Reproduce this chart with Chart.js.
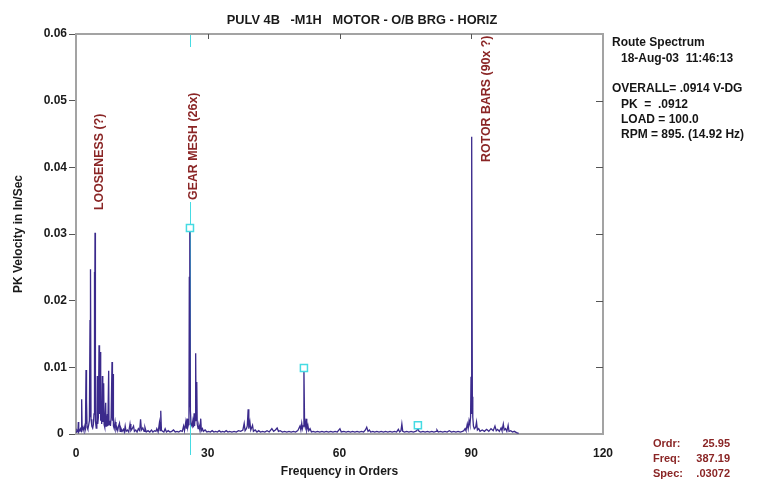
<!DOCTYPE html>
<html>
<head>
<meta charset="utf-8">
<script src="https://cdn.jsdelivr.net/npm/chart.js@4.4.1/dist/chart.umd.min.js"></script>
<style>
  html, body { margin: 0; padding: 0; background: #ffffff; }
  #wrap { width: 768px; height: 493px; }
</style>
</head>
<body>
<div id="wrap"><canvas id="c" width="768" height="493"></canvas></div>
<script>
// ---------------- data ----------------
const chartTitle = 'PULV 4B   -M1H   MOTOR - O/B BRG - HORIZ';
const xAxisTitle = 'Frequency in Orders';
const yAxisTitle = 'PK Velocity in In/Sec';
const xTickValues = [0, 30, 60, 90, 120];
const yTickValues = [0, 0.01, 0.02, 0.03, 0.04, 0.05, 0.06];

// spectrum: [order, velocity in units of 0.0001 in/sec]
const spectrumE4 = [
  [0.0,3],[0.2,6],[0.45,4],[0.53,18],[0.62,3],[0.8,5],[1.0,8],[1.15,4],[1.29,52],[1.4,6],
  [1.6,10],[1.8,5],[2.0,12],[2.15,8],[2.28,96],[2.36,15],[2.43,50],[2.52,10],[2.7,7],[2.9,14],
  [3.05,20],[3.19,171],[3.26,25],[3.34,247],[3.42,22],[3.6,12],[3.8,9],[3.95,14],[4.1,30],[4.18,243],
  [4.25,40],[4.33,302],[4.42,20],[4.6,9],[4.75,12],[4.86,87],[4.95,15],[5.1,25],[5.24,133],[5.32,30],
  [5.4,45],[5.54,123],[5.62,20],[5.75,35],[5.85,15],[6.0,87],[6.1,18],[6.2,30],[6.3,76],[6.4,14],
  [6.55,10],[6.76,47],[6.85,12],[7.0,18],[7.15,30],[7.25,12],[7.44,95],[7.52,14],[7.7,20],[7.85,12],
  [8.0,25],[8.2,108],[8.3,20],[8.43,90],[8.52,12],[8.7,8],[8.9,18],[9.1,6],[9.3,10],[9.5,5],
  [9.7,12],[9.9,16],[10.05,4],[10.2,9],[10.5,4],[10.8,7],[11.0,3],[11.2,12],[11.4,4],[11.7,6],
  [12.0,3],[12.3,15],[12.5,5],[12.8,8],[13.1,12],[13.3,4],[13.6,6],[13.9,3],[14.2,8],[14.5,5],
  [14.7,22],[14.9,6],[15.2,9],[15.5,4],[15.7,10],[16.0,3],[16.4,5],[16.8,3],[17.2,6],[17.5,3],
  [17.9,5],[18.2,4],[18.4,8],[18.7,3],[19.0,17],[19.15,5],[19.3,35],[19.45,6],[19.7,4],[20.0,3],
  [20.3,8],[20.6,3],[21.0,5],[21.4,3],[21.8,4],[22.2,6],[22.6,3],[23.0,4],[23.4,3],[23.8,5],
  [24.2,4],[24.5,12],[24.7,5],[25.0,18],[25.15,8],[25.3,23],[25.45,10],[25.6,14],[25.72,20],[25.8,236],
  [25.87,40],[25.95,309],[26.05,35],[26.2,15],[26.4,12],[26.6,20],[26.75,10],[26.9,31],[27.0,12],[27.1,25],
  [27.25,121],[27.35,20],[27.5,78],[27.6,15],[27.8,8],[28.0,12],[28.2,6],[28.4,23],[28.55,5],[28.8,8],
  [29.0,4],[29.4,6],[29.8,3],[30.2,4],[30.6,3],[31.0,5],[31.4,3],[31.8,4],[32.2,3],[32.6,5],
  [33.0,3],[33.4,4],[33.8,3],[34.2,5],[34.6,3],[35.0,4],[35.5,3],[36.0,4],[36.5,3],[37.0,5],
  [37.5,4],[38.0,6],[38.3,16],[38.5,5],[38.8,8],[39.0,12],[39.2,37],[39.35,8],[39.6,18],[39.8,6],
  [40.2,13],[40.4,4],[40.8,6],[41.2,3],[41.6,5],[42.0,3],[42.5,4],[43.0,3],[43.5,5],[44.0,3],
  [44.6,8],[45.0,4],[45.4,6],[45.8,9],[46.1,4],[46.5,5],[47.0,3],[47.5,4],[48.0,3],[48.5,4],
  [49.0,3],[49.5,4],[50.0,3],[50.5,5],[51.0,12],[51.2,6],[51.4,16],[51.55,8],[51.7,12],[51.9,98],
  [52.05,14],[52.2,10],[52.4,23],[52.55,6],[52.8,13],[53.0,5],[53.3,8],[53.6,3],[54.0,4],[54.5,3],
  [55.0,4],[55.5,3],[56.0,4],[56.5,3],[57.0,4],[57.5,3],[58.0,4],[58.5,3],[59.0,4],[59.5,3],
  [60.1,8],[60.4,3],[61.0,4],[61.5,3],[62.0,4],[62.5,3],[63.0,4],[63.5,3],[64.0,4],[64.5,3],
  [65.0,4],[65.5,3],[65.9,6],[66.2,10],[66.5,4],[66.8,6],[67.1,3],[67.6,4],[68.0,3],[68.5,4],
  [69.0,3],[69.5,4],[70.0,3],[70.5,4],[71.0,3],[71.5,4],[72.0,3],[72.5,4],[73.0,3],[73.4,7],
  [73.7,3],[74.0,5],[74.2,15],[74.4,4],[74.8,3],[75.3,4],[75.8,3],[76.3,4],[76.8,3],[77.3,4],
  [77.6,5],[77.85,9],[78.1,4],[78.5,3],[79.0,4],[79.5,3],[80.0,4],[80.5,3],[81.0,4],[81.5,3],
  [82.0,4],[82.2,6],[82.5,3],[83.0,4],[83.5,3],[84.0,4],[84.5,3],[85.0,5],[85.5,3],[86.0,4],
  [86.5,3],[87.0,4],[87.5,3],[88.0,4],[88.3,5],[88.6,8],[88.8,5],[89.1,15],[89.3,8],[89.5,20],
  [89.7,14],[89.85,26],[89.95,86],[90.05,30],[90.15,446],[90.25,56],[90.35,25],[90.5,12],[90.7,8],[91.0,10],
  [91.2,18],[91.4,6],[91.7,8],[92.0,4],[92.5,6],[93.0,4],[93.5,7],[94.0,4],[94.5,8],[95.0,5],
  [95.4,12],[95.7,5],[96.0,7],[96.4,4],[96.8,9],[97.0,5],[97.3,15],[97.5,6],[97.8,8],[98.1,4],
  [98.4,13],[98.6,4],[99.0,5],[99.4,3],[99.8,4],[100.3,2],[100.8,1]
];

// cursor and its harmonic markers [order, in/sec]
const cursorOrder = 25.95;
const harmonicMarkers = [[25.95, 0.0309], [51.9, 0.0099], [77.85, 0.0013]];

// vertical fault annotations
const annotationTexts = ['LOOSENESS (?)', 'GEAR MESH (26x)', 'ROTOR BARS (90x ?)'];
const annotationOrders = [5.35, 26.8, 93.6];

// info text
const infoLines = ['Route Spectrum', '18-Aug-03  11:46:13', '', 'OVERALL= .0914 V-DG', 'PK  =  .0912', 'LOAD = 100.0', 'RPM = 895. (14.92 Hz)'];
const cursorLabels = ['Ordr:', 'Freq:', 'Spec:'];
const cursorValues = ['25.95', '387.19', '.03072'];

// ---------------- drawing ----------------
const FONT = '"Liberation Sans", Arial, Helvetica, sans-serif';
const SPEC_COLOR = '#3b2a8c';
const CYAN = '#45dbe3';
const RED = '#8a2525';
const FRAME = '#a3a3a3';

// vertical anchor (bottom of text) for the annotations, in axis units
const annotationBase = [0.0336, 0.0351, 0.0408];

const decorPlugin = {
  id: 'decor',
  beforeDatasetsDraw(chart) {
    const {ctx, chartArea: a, scales: {x, y}} = chart;
    ctx.save();
    // cursor line (hidden behind the gear-mesh label region)
    const cx = Math.round(x.getPixelForValue(cursorOrder)) + 0.5;
    const labelBottom = y.getPixelForValue(annotationBase[1]);
    ctx.strokeStyle = CYAN;
    ctx.lineWidth = 1;
    ctx.beginPath();
    ctx.moveTo(cx, a.top);
    ctx.lineTo(cx, a.top + 13);
    ctx.moveTo(cx, labelBottom + 2);
    ctx.lineTo(cx, a.bottom + 21);
    ctx.stroke();
    ctx.restore();
  },
  afterDatasetsDraw(chart) {
    const {ctx, chartArea: a, scales: {x, y}} = chart;
    ctx.save();
    // top & right frame
    ctx.strokeStyle = FRAME;
    ctx.lineWidth = 2;
    ctx.beginPath();
    ctx.moveTo(a.left - 1, a.top);
    ctx.lineTo(a.right, a.top);
    ctx.lineTo(a.right, a.bottom + 1);
    ctx.stroke();
    // inward ticks on top (x) and right (y)
    ctx.strokeStyle = '#555';
    ctx.lineWidth = 1;
    ctx.beginPath();
    xTickValues.forEach(v => {
      if (v <= x.min || v >= x.max) return;
      const px = Math.round(x.getPixelForValue(v)) + 0.5;
      ctx.moveTo(px, a.top);
      ctx.lineTo(px, a.top + 5);
    });
    yTickValues.forEach(v => {
      if (v <= y.min || v >= y.max) return;
      const py = Math.round(y.getPixelForValue(v)) + 0.5;
      ctx.moveTo(a.right - 7, py);
      ctx.lineTo(a.right, py);
    });
    ctx.stroke();

    // chart title
    ctx.fillStyle = '#1a1a1a';
    ctx.font = 'bold 12.8px ' + FONT;
    ctx.textAlign = 'center';
    ctx.textBaseline = 'middle';
    ctx.fillText(chartTitle, 362, 20);

    // rotated annotations
    ctx.fillStyle = RED;
    ctx.font = 'bold 12.4px ' + FONT;
    ctx.textAlign = 'left';
    ctx.textBaseline = 'middle';
    annotationTexts.forEach((t, i) => {
      const px = x.getPixelForValue(annotationOrders[i]);
      const py = y.getPixelForValue(annotationBase[i]);
      ctx.save();
      ctx.translate(px, py);
      ctx.rotate(-Math.PI / 2);
      ctx.fillText(t, 0, 0);
      ctx.restore();
    });

    // info block on the right
    ctx.fillStyle = '#151515';
    ctx.font = 'bold 12px ' + FONT;
    const infoX = [612, 621, 612, 612, 621, 621, 621];
    const infoY = [43, 59, 73, 88.5, 105, 120, 135];
    infoLines.forEach((t, i) => { if (t) ctx.fillText(t, infoX[i], infoY[i]); });

    // cursor readout bottom right
    ctx.fillStyle = RED;
    ctx.font = 'bold 11px ' + FONT;
    const rowY = [444, 459, 474];
    cursorLabels.forEach((t, i) => {
      ctx.textAlign = 'left';
      ctx.fillText(t, 653, rowY[i]);
      ctx.textAlign = 'right';
      ctx.fillText(cursorValues[i], 730, rowY[i]);
    });
    ctx.restore();
  }
};

const chart = new Chart(document.getElementById('c'), {
  type: 'line',
  data: {
    datasets: [
      {
        label: 'harmonic markers',
        type: 'scatter',
        data: harmonicMarkers.map(p => ({x: p[0], y: p[1]})),
        pointStyle: 'rect',
        pointRadius: 5,
        pointBorderColor: CYAN,
        pointBackgroundColor: '#ffffff',
        pointBorderWidth: 1.5,
        showLine: false
      },
      {
        label: 'spectrum',
        data: spectrumE4.map(p => ({x: p[0], y: p[1] / 10000})),
        borderColor: SPEC_COLOR,
        borderWidth: 1.3,
        pointRadius: 0,
        tension: 0,
        fill: false
      }
    ]
  },
  options: {
    responsive: false,
    animation: false,
    devicePixelRatio: 1,
    layout: { padding: { left: 0, right: 165, top: 34, bottom: 0 } },
    plugins: {
      legend: { display: false },
      tooltip: { enabled: false },
      title: { display: false }
    },
    scales: {
      x: {
        type: 'linear',
        min: 0,
        max: 120,
        afterBuildTicks(scale) { scale.ticks = xTickValues.map(v => ({value: v})); },
        afterFit(scale) { scale.height = 59; },
        grid: { display: false },
        border: { display: true, color: FRAME, width: 2 },
        ticks: {
          color: '#1a1a1a',
          font: { family: FONT, size: 12, weight: 'bold' },
          padding: 4,
          maxRotation: 0
        },
        title: {
          display: true,
          text: xAxisTitle,
          color: '#1a1a1a',
          font: { family: FONT, size: 12, weight: 'bold' },
          padding: { top: 0, bottom: 14 }
        }
      },
      y: {
        type: 'linear',
        min: 0,
        max: 0.06,
        afterBuildTicks(scale) { scale.ticks = yTickValues.map(v => ({value: v})); },
        afterFit(scale) { scale.width = 76; },
        grid: { display: true, drawOnChartArea: false, drawTicks: true, tickLength: 7, color: '#555', lineWidth: 1 },
        border: { display: true, color: FRAME, width: 2 },
        ticks: {
          color: '#1a1a1a',
          font: { family: FONT, size: 12, weight: 'bold' },
          padding: 2,
          callback: v => (v === 0 ? '0 ' : v.toFixed(2))
        },
        title: {
          display: true,
          text: yAxisTitle,
          color: '#1a1a1a',
          font: { family: FONT, size: 12, weight: 'bold' },
          padding: { top: 11 }
        }
      }
    }
  },
  plugins: [decorPlugin]
});
</script>
</body>
</html>
